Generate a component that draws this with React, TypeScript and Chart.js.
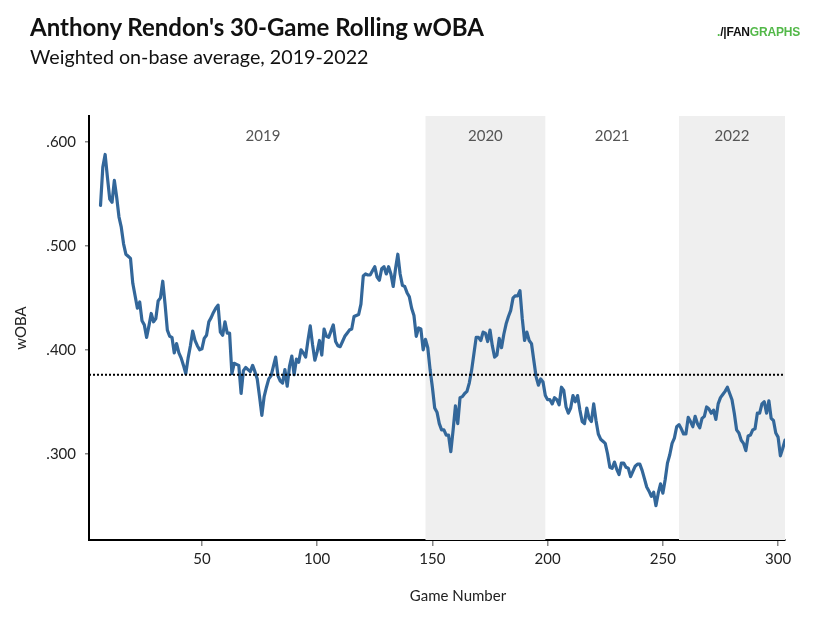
import { useEffect, useRef } from 'react'
import { Chart, registerables, type ChartConfiguration, type Plugin } from 'chart.js'

Chart.register(...registerables)

// game number and 30-game rolling wOBA
const games = [
  6, 7, 8, 9, 10, 11, 12, 13, 14, 15, 16, 17, 18, 19, 20, 21, 22, 23, 24, 25,
  26, 27, 28, 29, 30, 31, 32, 33, 34, 35, 36, 37, 38, 39, 40, 41, 42, 43, 44, 45,
  46, 47, 48, 49, 50, 51, 52, 53, 54, 55, 56, 57, 58, 59, 60, 61, 62, 63, 64, 65,
  66, 67, 68, 69, 70, 71, 72, 73, 74, 75, 76, 77, 78, 79, 80, 81, 82, 83, 84, 85,
  86, 87, 88, 89, 90, 91, 92, 93, 94, 95, 96, 97, 98, 99, 100, 101, 102, 103, 104, 105,
  106, 107, 108, 109, 110, 111, 112, 113, 114, 115, 116, 117, 118, 119, 120, 121, 122, 123, 124, 125,
  126, 127, 128, 129, 130, 131, 132, 133, 134, 135, 136, 137, 138, 139, 140, 141, 142, 143, 144, 145,
  146, 147, 148, 149, 150, 151, 152, 153, 154, 155, 156, 157, 158, 159, 160, 161, 162, 163, 164, 165,
  166, 167, 168, 169, 170, 171, 172, 173, 174, 175, 176, 177, 178, 179, 180, 181, 182, 183, 184, 185,
  186, 187, 188, 189, 190, 191, 192, 193, 194, 195, 196, 197, 198, 199, 200, 201, 202, 203, 204, 205,
  206, 207, 208, 209, 210, 211, 212, 213, 214, 215, 216, 217, 218, 219, 220, 221, 222, 223, 224, 225,
  226, 227, 228, 229, 230, 231, 232, 233, 234, 235, 236, 237, 238, 239, 240, 241, 242, 243, 244, 245,
  246, 247, 248, 249, 250, 251, 252, 253, 254, 255, 256, 257, 258, 259, 260, 261, 262, 263, 264, 265,
  266, 267, 268, 269, 270, 271, 272, 273, 274, 275, 276, 277, 278, 279, 280, 281, 282, 283, 284, 285,
  286, 287, 288, 289, 290, 291, 292, 293, 294, 295, 296, 297, 298, 299, 300, 301, 302, 303,
]

const woba = [
  0.539, 0.576, 0.588, 0.566, 0.545, 0.542, 0.563, 0.547, 0.528, 0.518, 0.502, 0.492, 0.490, 0.488, 0.464, 0.452, 0.440, 0.446, 0.428, 0.424,
  0.412, 0.423, 0.435, 0.427, 0.430, 0.447, 0.450, 0.466, 0.444, 0.419, 0.413, 0.412, 0.397, 0.406, 0.397, 0.392, 0.385, 0.377, 0.392, 0.404,
  0.418, 0.409, 0.404, 0.400, 0.401, 0.411, 0.414, 0.427, 0.431, 0.436, 0.440, 0.443, 0.417, 0.414, 0.427, 0.416, 0.416, 0.377, 0.387, 0.386,
  0.385, 0.358, 0.380, 0.383, 0.381, 0.379, 0.385, 0.379, 0.372, 0.355, 0.337, 0.355, 0.364, 0.372, 0.375, 0.384, 0.393, 0.375, 0.370, 0.368,
  0.381, 0.365, 0.384, 0.394, 0.376, 0.391, 0.388, 0.400, 0.397, 0.393, 0.409, 0.423, 0.405, 0.390, 0.398, 0.409, 0.395, 0.420, 0.413, 0.412,
  0.418, 0.424, 0.408, 0.404, 0.403, 0.408, 0.413, 0.416, 0.419, 0.420, 0.432, 0.433, 0.434, 0.444, 0.471, 0.473, 0.472, 0.472, 0.476, 0.480,
  0.470, 0.467, 0.478, 0.480, 0.473, 0.480, 0.473, 0.461, 0.478, 0.492, 0.473, 0.462, 0.461, 0.455, 0.451, 0.440, 0.433, 0.413, 0.421, 0.420,
  0.400, 0.410, 0.402, 0.381, 0.364, 0.344, 0.340, 0.329, 0.323, 0.323, 0.318, 0.318, 0.302, 0.323, 0.346, 0.329, 0.354, 0.355, 0.358, 0.360,
  0.368, 0.380, 0.396, 0.412, 0.412, 0.409, 0.417, 0.416, 0.408, 0.419, 0.404, 0.393, 0.395, 0.411, 0.402, 0.415, 0.425, 0.432, 0.438, 0.450,
  0.452, 0.452, 0.457, 0.430, 0.409, 0.417, 0.409, 0.406, 0.390, 0.374, 0.366, 0.372, 0.369, 0.356, 0.352, 0.352, 0.348, 0.354, 0.352, 0.347,
  0.364, 0.361, 0.345, 0.339, 0.344, 0.356, 0.350, 0.356, 0.342, 0.331, 0.329, 0.344, 0.334, 0.331, 0.348, 0.332, 0.319, 0.314, 0.312, 0.310,
  0.300, 0.287, 0.286, 0.292, 0.285, 0.280, 0.291, 0.291, 0.287, 0.286, 0.278, 0.283, 0.288, 0.290, 0.290, 0.284, 0.276, 0.268, 0.264, 0.259,
  0.263, 0.250, 0.262, 0.271, 0.262, 0.275, 0.291, 0.299, 0.310, 0.315, 0.326, 0.328, 0.324, 0.319, 0.319, 0.335, 0.331, 0.326, 0.336, 0.329,
  0.325, 0.334, 0.336, 0.345, 0.343, 0.339, 0.342, 0.333, 0.348, 0.354, 0.357, 0.360, 0.364, 0.358, 0.352, 0.339, 0.323, 0.320, 0.313, 0.310,
  0.303, 0.317, 0.318, 0.323, 0.324, 0.339, 0.339, 0.348, 0.350, 0.339, 0.351, 0.334, 0.332, 0.320, 0.316, 0.298, 0.305, 0.313,
]

const averageWoba = 0.376

const xTicks = [50, 100, 150, 200, 250, 300]
const yTicks = [0.3, 0.4, 0.5, 0.6]

const seasons = ['2019', '2020', '2021', '2022']
const seasonStart = [1, 147, 199, 257]
const seasonEnd = [147, 199, 257, 303]
const seasonLabelX = [76.5, 173, 228, 280]
const shadedSeasons = ['2020', '2022']

const seasonBands: Plugin<'line'> = {
  id: 'seasonBands',
  beforeDatasetsDraw(chart) {
    const { ctx, chartArea, scales } = chart
    const x = scales.x
    ctx.save()
    seasons.forEach((season, i) => {
      if (shadedSeasons.includes(season)) {
        const x0 = x.getPixelForValue(seasonStart[i])
        const x1 = x.getPixelForValue(seasonEnd[i])
        ctx.fillStyle = '#efefef'
        ctx.fillRect(x0, chartArea.top, x1 - x0, chartArea.bottom - chartArea.top)
      }
    })
    ctx.fillStyle = '#555555'
    ctx.font = '15px Lato'
    ctx.textAlign = 'center'
    ctx.textBaseline = 'middle'
    seasons.forEach((season, i) => {
      ctx.fillText(season, x.getPixelForValue(seasonLabelX[i]), chartArea.top + 20)
    })
    ctx.restore()
  },
}

export default function App() {
  const chartRef = useRef<HTMLCanvasElement>(null)
  const chartInstance = useRef<Chart | null>(null)

  useEffect(() => {
    document.body.style.margin = '0'
    if (!chartRef.current) return
    chartInstance.current?.destroy()

    const config: ChartConfiguration<'line'> = {
      type: 'line',
      data: {
        datasets: [
          {
            label: 'Average',
            data: [
              { x: games[0] - 5, y: averageWoba },
              { x: games[games.length - 1], y: averageWoba },
            ],
            borderColor: '#000000',
            borderWidth: 2,
            borderDash: [2, 2],
            pointRadius: 0,
            order: 0,
          },
          {
            label: 'wOBA',
            data: games.map((g, i) => ({ x: g, y: woba[i] })),
            borderColor: '#33679a',
            borderWidth: 3.2,
            borderJoinStyle: 'round',
            borderCapStyle: 'round',
            pointRadius: 0,
            tension: 0,
            order: 1,
          },
        ],
      },
      options: {
        animation: false,
        responsive: true,
        maintainAspectRatio: false,
        events: [],
        layout: { padding: { top: 116, right: 48, bottom: 0, left: 0 } },
        scales: {
          x: {
            type: 'linear',
            min: 1,
            max: 303,
            afterBuildTicks: (scale) => {
              scale.ticks = xTicks.map((v) => ({ value: v }))
            },
            afterFit: (scale) => {
              scale.height = 85
            },
            ticks: {
              font: { family: 'Lato', size: 15 },
              color: '#222222',
              padding: 4,
              maxRotation: 0,
            },
            grid: {
              drawOnChartArea: false,
              tickLength: 6,
              color: '#888888',
              lineWidth: 1.5,
            },
            border: { display: true, color: '#000000', width: 2 },
          },
          y: {
            type: 'linear',
            min: 0.217,
            max: 0.625,
            afterBuildTicks: (scale) => {
              scale.ticks = yTicks.map((v) => ({ value: v }))
            },
            afterFit: (scale) => {
              scale.width = 89
            },
            ticks: {
              font: { family: 'Lato', size: 15 },
              color: '#222222',
              padding: 9,
              callback: (value) => Number(value).toFixed(3).replace(/^0/, ''),
            },
            grid: {
              drawOnChartArea: false,
              tickLength: 4,
              color: '#888888',
              lineWidth: 1.5,
            },
            border: { display: true, color: '#000000', width: 2 },
            title: {
              display: true,
              text: 'wOBA',
              font: { family: 'Lato', size: 15 },
              color: '#222222',
              padding: { top: 12, bottom: 0 },
            },
          },
        },
        plugins: {
          legend: { display: false },
          tooltip: { enabled: false },
        },
      },
      plugins: [seasonBands],
    }

    chartInstance.current = new Chart(chartRef.current, config)

    return () => {
      chartInstance.current?.destroy()
      chartInstance.current = null
    }
  }, [])

  return (
    <div style={{ position: 'relative', width: 833, height: 625, background: '#ffffff', fontFamily: 'Lato' }}>
      <div style={{ position: 'absolute', left: 0, top: 0, width: 833, height: 625 }}>
        <canvas ref={chartRef} />
      </div>
      <div style={{ position: 'absolute', left: 30, top: 13, fontSize: 24, fontWeight: 700, lineHeight: 1.2, color: '#111111', whiteSpace: 'nowrap' }}>
        Anthony Rendon's 30-Game Rolling wOBA
      </div>
      <div style={{ position: 'absolute', left: 30, top: 45, fontSize: 19.7, lineHeight: 1.2, color: '#111111', whiteSpace: 'nowrap' }}>
        Weighted on-base average, 2019-2022
      </div>
      <div
        style={{
          position: 'absolute', left: 717, top: 25, fontFamily: '"Liberation Sans", Arial, sans-serif',
          fontSize: 12, fontWeight: 700, lineHeight: 1.2, letterSpacing: -0.2, whiteSpace: 'nowrap',
        }}
      >
        <span style={{ color: '#52b848' }}>.</span>
        <span style={{ color: '#111111' }}>/|</span>
        <span style={{ color: '#111111' }}>FAN</span>
        <span style={{ color: '#52b848' }}>GRAPHS</span>
      </div>
      <div style={{ position: 'absolute', left: 458, top: 586, transform: 'translateX(-50%)', fontSize: 15, lineHeight: 1.2, color: '#222222', whiteSpace: 'nowrap' }}>
        Game Number
      </div>
    </div>
  )
}
